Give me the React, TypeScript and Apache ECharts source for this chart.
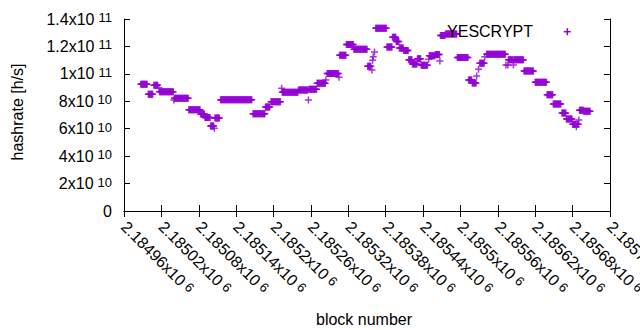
import React, { useEffect, useRef } from "react";
import * as echarts from "echarts";

// Runs of consecutive blocks sharing one hashrate estimate (start block, end block, hashrate in h/s)
const runStart = [
  2184987, 2184999, 2185008, 2185016, 2185017, 2185040, 2185041, 2185064, 2185083, 2185090,
  2185099, 2185105, 2185106, 2185115, 2185167, 2185187, 2185196, 2185213, 2185214, 2185240,
  2185256, 2185257, 2185270, 2185284, 2185286, 2185305, 2185306, 2185317, 2185329, 2185351,
  2185358, 2185359, 2185360, 2185362, 2185364, 2185382, 2185391, 2185397, 2185402, 2185409,
  2185417, 2185423, 2185431, 2185437, 2185449, 2185450, 2185460, 2185467, 2185468, 2185476,
  2185495, 2185513, 2185519, 2185526, 2185529, 2185531, 2185539, 2185542, 2185573, 2185576,
  2185577, 2185585, 2185586, 2185602, 2185620, 2185639, 2185649, 2185663, 2185670, 2185680,
  2185686, 2185687, 2185690, 2185691, 2185698,
];
const runEnd = [
  2184997, 2185006, 2185014, 2185016, 2185039, 2185040, 2185063, 2185082, 2185089, 2185098,
  2185104, 2185105, 2185113, 2185165, 2185186, 2185194, 2185211, 2185213, 2185239, 2185255,
  2185256, 2185269, 2185283, 2185284, 2185304, 2185305, 2185316, 2185328, 2185350, 2185356,
  2185358, 2185359, 2185360, 2185362, 2185381, 2185390, 2185396, 2185401, 2185408, 2185416,
  2185422, 2185430, 2185436, 2185447, 2185449, 2185459, 2185466, 2185467, 2185475, 2185494,
  2185512, 2185518, 2185525, 2185526, 2185529, 2185538, 2185539, 2185572, 2185573, 2185576,
  2185584, 2185585, 2185601, 2185617, 2185638, 2185648, 2185661, 2185669, 2185679, 2185685,
  2185686, 2185689, 2185690, 2185697, 2185708,
];
const runValue = [
  9.24e10, 8.51e10, 9.17e10, 8.99e10, 8.7e10, 8.1e10, 8.22e10, 7.39e10, 7.07e10, 6.82e10,
  6.2e10, 6.03e10, 6.78e10, 8.12e10, 7.09e10, 7.58e10, 7.97e10, 8.95e10, 8.66e10, 8.82e10,
  8.09e10, 8.87e10, 9.31e10, 9.55e10, 1.003e11, 9.75e10, 1.135e11, 1.214e11, 1.179e11, 1.055e11,
  1.028e11, 1.1e11, 1.125e11, 1.16e11, 1.332e11, 1.196e11, 1.267e11, 1.236e11, 1.189e11, 1.17e11,
  1.103e11, 1.072e11, 1.111e11, 1.062e11, 1.106e11, 1.132e11, 1.141e11, 1.094e11, 1.28e11, 1.291e11,
  1.119e11, 9.55e10, 9.33e10, 9.84e10, 1.033e11, 1.077e11, 1.125e11, 1.143e11, 1.065e11, 1.065e11,
  1.103e11, 1.065e11, 1.103e11, 1.021e11, 9.38e10, 8.48e10, 7.8e10, 7.15e10, 6.71e10, 6.32e10,
  6.15e10, 6.32e10, 6.64e10, 7.34e10, 7.27e10,
];

const xTickLabels = [
  "2.18496", "2.18502", "2.18508", "2.18514", "2.1852", "2.18526", "2.18532",
  "2.18538", "2.18544", "2.1855", "2.18556", "2.18562", "2.18568", "2.18574",
];
const xTickExponent = "6";
const yTickLabels = ["0", "2x10", "4x10", "6x10", "8x10", "1x10", "1.2x10", "1.4x10"];
const yTickExponents = ["", "10", "10", "10", "10", "11", "11", "11"];
const seriesName = "YESCRYPT";
const xTitle = "block number";
const yTitle = "hashrate [h/s]";

const X_MIN = 2184960;
const X_STEP = 60;
const X_MAX = 2185740;
const Y_MIN = 0;
const Y_STEP = 2e10;
const Y_MAX = 1.4e11;

const FONT = "'Liberation Sans', Arial, sans-serif";
const PURPLE = "#9400d3";
const PLUS = "path://M0,5L10,5M5,0L5,10";

const rich = {
  m: { fontFamily: FONT, fontSize: 16, color: "#000", lineHeight: 16, padding: [3, 0, 3, 0] },
  e: { fontFamily: FONT, fontSize: 13, color: "#000", lineHeight: 12, padding: [0, 0, 10, 4], verticalAlign: "top" },
};

export default function App() {
  const ref = useRef<HTMLDivElement>(null);
  useEffect(() => {
    if (!ref.current) return;
    const chart = echarts.init(ref.current, undefined, { renderer: "svg" });
    const data: number[][] = [];
    for (let i = 0; i < runStart.length; i++) {
      for (let b = runStart[i]; b <= runEnd[i]; b++) data.push([b, runValue[i]]);
    }
    const xFmt = (v: number) => {
      const i = Math.round((v - X_MIN) / X_STEP);
      return `{m|${xTickLabels[i] ?? ""}x10}{e|${xTickExponent}}`;
    };
    const yFmt = (v: number) => {
      const i = Math.round((v - Y_MIN) / Y_STEP);
      const e = yTickExponents[i];
      return e ? `{m|${yTickLabels[i]}}{e|${e}}` : `{m|${yTickLabels[i]}}`;
    };
    const axisLine = { show: true, lineStyle: { color: "#000", width: 1 } };
    const axisTick = { show: true, inside: true, length: 6, lineStyle: { color: "#000", width: 1 } };
    chart.setOption({
      animation: false,
      backgroundColor: "#fff",
      grid: { left: 124, right: 30, top: 19, bottom: 119, containLabel: false, outerBoundsMode: "none" },
      xAxis: [
        {
          type: "value", position: "bottom", min: X_MIN, max: X_MAX, interval: X_STEP,
          axisLine, axisTick, splitLine: { show: false },
          axisLabel: {
            rotate: -45, margin: 13, interval: 0, showMinLabel: true, showMaxLabel: true,
            hideOverlap: false, formatter: xFmt, rich,
          },
        },
        {
          type: "value", position: "top", min: X_MIN, max: X_MAX, interval: X_STEP,
          axisLine, axisTick, splitLine: { show: false }, axisLabel: { show: false },
        },
      ],
      yAxis: [
        {
          type: "value", position: "left", min: Y_MIN, max: Y_MAX, interval: Y_STEP,
          axisLine, axisTick, splitLine: { show: false },
          axisLabel: { margin: 12, formatter: yFmt, rich, showMinLabel: true, showMaxLabel: true, hideOverlap: false },
        },
        {
          type: "value", position: "right", min: Y_MIN, max: Y_MAX, interval: Y_STEP,
          axisLine, axisTick, splitLine: { show: false }, axisLabel: { show: false },
        },
      ],
      series: [
        {
          name: seriesName, type: "scatter", xAxisIndex: 0, yAxisIndex: 0,
          symbol: PLUS, symbolSize: 7, data,
          itemStyle: { color: "rgba(0,0,0,0)", borderColor: PURPLE, borderWidth: 1.5 },
          emphasis: { disabled: true },
        },
      ],
      graphic: [
        {
          type: "text", x: 17, y: 112, rotation: Math.PI / 2,
          style: { text: yTitle, font: `16px ${FONT}`, fill: "#000", textAlign: "center", textVerticalAlign: "middle" },
        },
        {
          type: "text", x: 364, y: 319,
          style: { text: xTitle, font: `16px ${FONT}`, fill: "#000", textAlign: "center", textVerticalAlign: "middle" },
        },
        {
          type: "text", x: 533, y: 31.5, z: 100,
          style: { text: seriesName, font: `16px ${FONT}`, fill: "#000", textAlign: "right", textVerticalAlign: "middle" },
        },
        { type: "line", z: 100, shape: { x1: 563.8, y1: 31.7, x2: 570.8, y2: 31.7 }, style: { stroke: PURPLE, lineWidth: 1.5 } },
        { type: "line", z: 100, shape: { x1: 567.3, y1: 28.2, x2: 567.3, y2: 35.2 }, style: { stroke: PURPLE, lineWidth: 1.5 } },
      ],
    });
    return () => chart.dispose();
  }, []);
  return <div ref={ref} style={{ position: "fixed", left: 0, top: 0, width: 640, height: 330 }} />;
}
